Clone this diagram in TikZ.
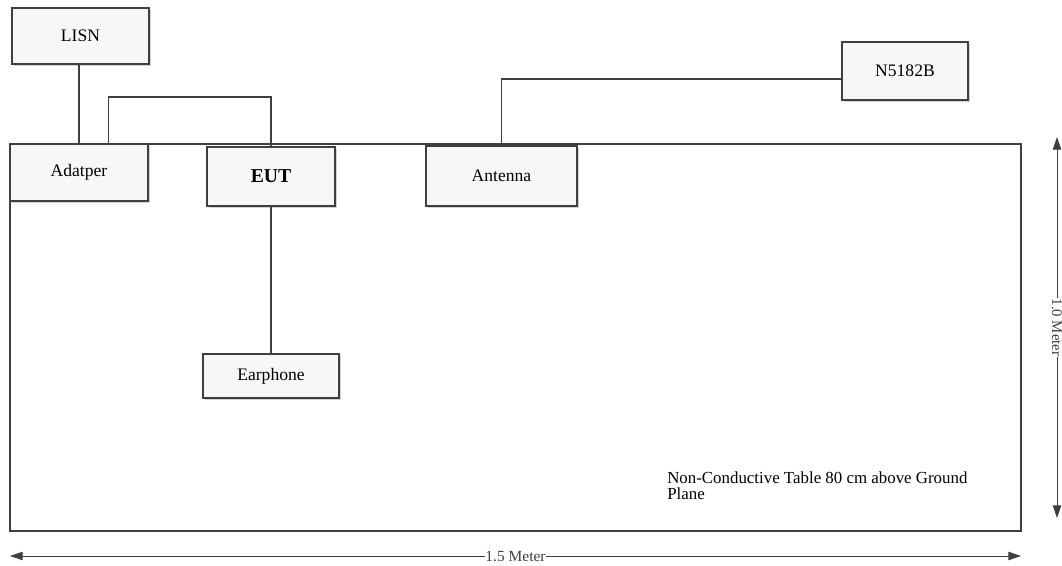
\documentclass[tikz,border=0pt]{standalone}
\usepackage{fontspec}
\setmainfont{Liberation Serif}
\usepackage{tikz}
\usetikzlibrary{positioning,arrows.meta,calc,shadows}
\definecolor{edge}{HTML}{3F3F3F}

\begin{document}
\begin{tikzpicture}[
    x=0.025cm, y=-0.025cm,
    box/.style={draw=edge, line width=0.9pt, fill=gray!6, align=center, inner sep=0pt,
      drop shadow={shadow xshift=1.2pt, shadow yshift=-1.2pt, fill=gray!35, opacity=1},
      font=\fontsize{12.5}{14}\selectfont},
    tablebox/.style={draw=edge, line width=1.6pt, inner sep=0pt},
    wire/.style={draw=edge, line width=0.8pt},
    dimarr/.style={{Triangle[length=9pt,width=6pt]}-{Triangle[length=9pt,width=6pt]}, edge, line width=0.6pt}
  ]
    \useasboundingbox (0,0) rectangle (1062,565);

    % the table
    \node[tablebox, minimum width=25.275cm, minimum height=9.675cm] (table) at (515.5,337.5) {};

    % equipment
    \node[box, minimum width=3.43cm, minimum height=1.4cm] (lisn) at (80.5,36) {LISN};
    \node[box, minimum width=3.45cm, minimum height=1.43cm] (adapter) at (79,172.5) {Adatper};
    \node[box, minimum width=3.2cm, minimum height=1.48cm, font=\fontsize{14}{16}\selectfont\bfseries] (eut) at (271,176.5) {EUT};
    \node[box, minimum width=3.78cm, minimum height=1.5cm] (antenna) at (501.5,176) {Antenna};
    \node[box, minimum width=3.15cm, minimum height=1.45cm] (sg) at (905,71) {N5182B};
    \node[box, minimum width=3.4cm, minimum height=1.1cm] (earphone) at (271,376) {Earphone};

    % cables
    \coordinate (bend) at (271,97);
    \draw[wire] (adapter.north) -- (adapter.north |- lisn.south);
    \draw[wire] ([xshift=0.73cm]adapter.north) |- (bend) -- (eut.north);
    \draw[wire] (eut.south) -- (earphone.north);
    \draw[wire] (antenna.north) |- ([yshift=-0.2cm]sg.west);

    \node[anchor=north west, align=left, inner sep=0pt, font=\fontsize{12}{11}\selectfont] (note) at (667,472)
      {Non-Conductive Table 80 cm above Ground\\Plane};

    % dimensions
    \coordinate (hl) at (10,556);
    \coordinate (hr) at (1021,556);
    \coordinate (vt) at (1057,137);
    \coordinate (vb) at (1057,518);
    \draw[dimarr] (hl) -- node[fill=white, inner sep=0.5pt, font=\fontsize{11}{12}\selectfont] (wlabel) {1.5 Meter} (hr);
    \draw[dimarr] (vt) -- node[fill=white, inner sep=0.5pt, rotate=-90, font=\fontsize{10.5}{12}\selectfont] (hlabel) {1.0 Meter} (vb);
  \end{tikzpicture}
\end{document}
